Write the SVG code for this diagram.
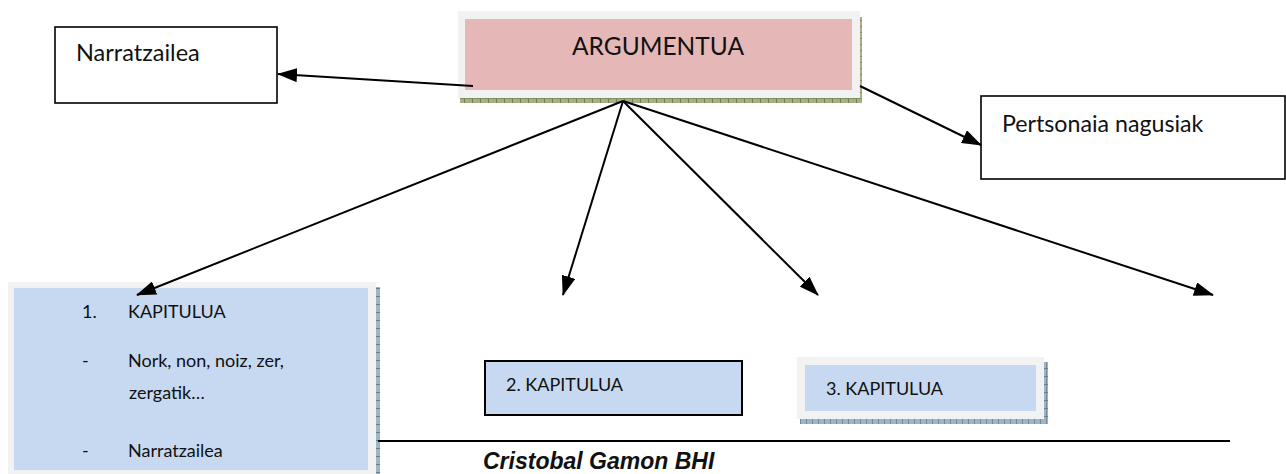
<svg xmlns="http://www.w3.org/2000/svg" width="1286" height="474" viewBox="0 0 1286 474">
<style>
.t{font-family:Lato,"Open Sans","Liberation Sans",sans-serif;fill:#111}
.box{fill:#fff;stroke:#000;stroke-width:1.6}
.frame{fill:#f2f2f2}
.blue{fill:#c6d9f1}
.conn line{stroke:#000;stroke-width:2;marker-end:url(#ah)}
</style>
<defs>
<marker id="ah" viewBox="0 0 20 14" refX="19" refY="7" markerWidth="20" markerHeight="14" markerUnits="userSpaceOnUse" orient="auto">
<path d="M0,0 L20,7 L0,14 z" fill="#000"/>
</marker>
<pattern id="hg" width="8" height="6" patternUnits="userSpaceOnUse">
<rect width="8" height="6" fill="#a4b088"/>
<rect x="0" y="0" width="1" height="6" fill="#6f7f4f"/>
<rect x="0" y="2" width="8" height="1" fill="#7f8f5f"/>
</pattern>
<pattern id="hb" width="6" height="8" patternUnits="userSpaceOnUse">
<rect width="6" height="8" fill="#9fb4c4"/>
<rect x="0" y="0" width="6" height="1" fill="#5f7f94"/>
<rect x="2" y="0" width="1" height="8" fill="#6f8ca0"/>
</pattern>
</defs>

<g id="argumentua">
<rect x="460" y="17" width="402" height="86" fill="url(#hg)"/>
<rect class="frame" x="458" y="11" width="402" height="87"/>
<rect x="465" y="19" width="387" height="71" fill="#e5b8b7"/>
<text class="t" x="658" y="55" font-size="24.5" text-anchor="middle">ARGUMENTUA</text>
</g>

<g id="narratzailea">
<rect class="box" x="55" y="27" width="222" height="76"/>
<text class="t" x="76" y="61" font-size="23.5">Narratzailea</text>
</g>

<g id="pertsonaiak">
<rect class="box" x="981" y="96" width="304" height="83"/>
<text class="t" x="1002" y="132" font-size="23.2">Pertsonaia nagusiak</text>
</g>

<g id="kapitulua1">
<rect x="12" y="287" width="368" height="190" fill="url(#hb)"/>
<rect class="frame" x="8" y="282" width="368" height="192"/>
<rect class="blue" x="14" y="288" width="354" height="182"/>
<text class="t" font-size="18">
<tspan x="82" y="318">1.</tspan><tspan x="128" y="318">KAPITULUA</tspan>
<tspan x="82" y="367">-</tspan><tspan x="128" y="367">Nork, non, noiz, zer,</tspan>
<tspan x="129" y="399">zergatik…</tspan>
<tspan x="82" y="457">-</tspan><tspan x="128" y="457">Narratzailea</tspan>
</text>
</g>

<g id="kapitulua2">
<rect class="blue" x="485" y="361" width="257" height="54" stroke="#000" stroke-width="2"/>
<text class="t" x="506" y="391" font-size="18">2. KAPITULUA</text>
</g>

<g id="kapitulua3">
<rect x="800" y="362" width="248" height="62" fill="url(#hb)"/>
<rect class="frame" x="797" y="357" width="247" height="62"/>
<rect class="blue" x="805" y="365" width="231" height="46"/>
<text class="t" x="826" y="395" font-size="18">3. KAPITULUA</text>
</g>

<g class="conn" id="connectors">
<line x1="473" y1="86" x2="278" y2="74"/>
<line x1="860" y1="86" x2="981" y2="145"/>
<line x1="623" y1="101" x2="137" y2="295"/>
<line x1="623" y1="101" x2="563" y2="295"/>
<line x1="623" y1="101" x2="818" y2="295"/>
<line x1="623" y1="101" x2="1213" y2="295"/>
</g>

<g id="footer">
<line x1="378" y1="441" x2="1230" y2="441" stroke="#000" stroke-width="2"/>
<text x="483" y="469" font-family="'Liberation Sans',Arial,sans-serif" font-size="23" font-weight="bold" font-style="italic" fill="#111">Cristobal Gamon BHI</text>
</g>
</svg>
